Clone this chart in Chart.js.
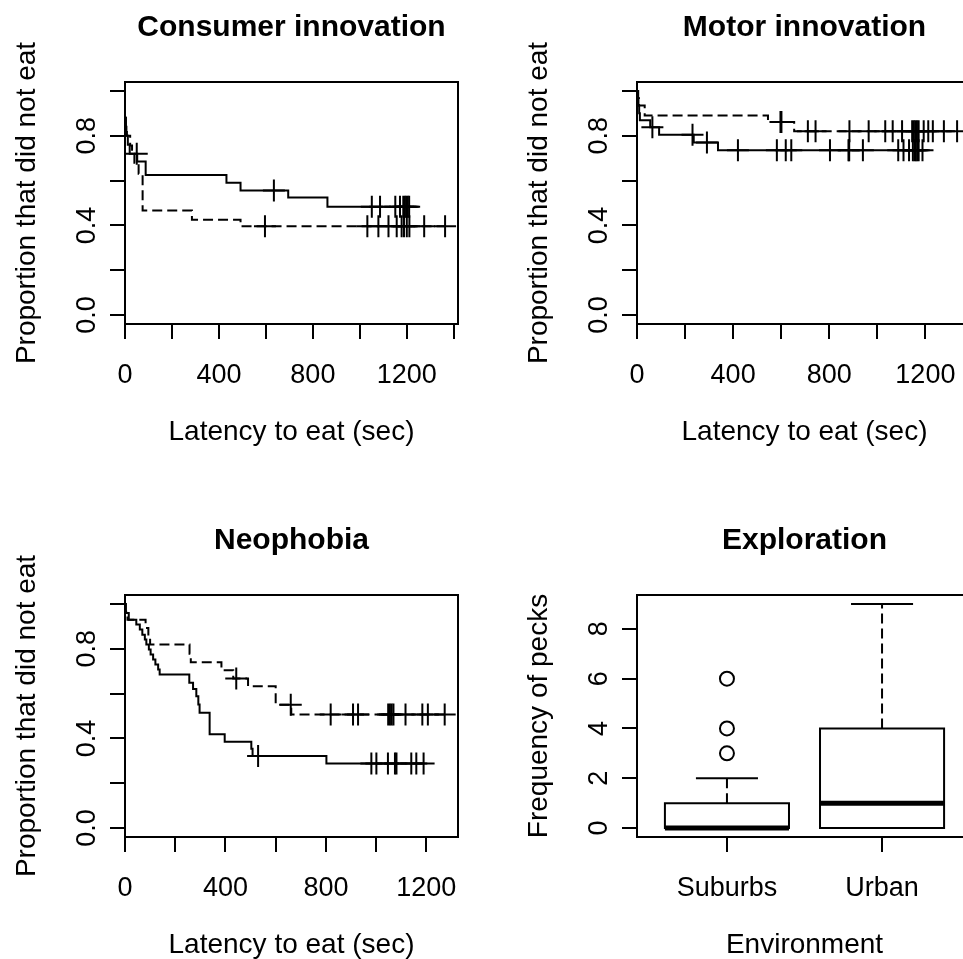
<!DOCTYPE html>
<html>
<head>
<meta charset="utf-8">
<script src="https://cdn.jsdelivr.net/npm/chart.js@4.4.0/dist/chart.umd.min.js"></script>
<style>
  html, body { margin: 0; padding: 0; background: #fff; }
  #wrap { position: relative; width: 963px; height: 959px; overflow: hidden; background: #fff; }
  #wrap canvas { position: absolute; left: 0; top: 0; }
</style>
</head>
<body>
<div id="wrap">
  <canvas id="consumer" width="1024" height="959"></canvas>
  <canvas id="motor" width="1024" height="959"></canvas>
  <canvas id="neophobia" width="1024" height="959"></canvas>
  <canvas id="exploration" width="1024" height="959"></canvas>
</div>
<script>
// Kaplan-Meier steps: [latency (sec), proportion that did not eat after the step]
const consumerSolidSteps = [[0, 0.88], [3, 0.84], [6, 0.80], [12, 0.76], [20, 0.72], [52, 0.685], [88, 0.625],
  [432, 0.59], [492, 0.556], [695, 0.524], [862, 0.483]];
const consumerSolidCensored = [50, 634, 1051, 1086, 1151, 1171, 1185, 1192, 1198, 1204, 1210];
const consumerDashedSteps = [[0, 0.88], [4, 0.84], [8, 0.80], [22, 0.757], [30, 0.72], [40, 0.68], [58, 0.63],
  [75, 0.466], [285, 0.425], [492, 0.396]];
const consumerDashedCensored = [596, 1032, 1079, 1122, 1157, 1178, 1188, 1200, 1211, 1274, 1363];

const motorSolidSteps = [[0, 1], [3, 0.967], [6, 0.935], [9, 0.9], [12, 0.869], [55, 0.838], [92, 0.805],
  [236, 0.77], [337, 0.735]];
const motorSolidCensored = [64, 231, 291, 420, 582, 619, 642, 803, 880, 883, 940, 1087, 1109, 1132,
  1148, 1155, 1160, 1166, 1172, 1188];
const motorDashedSteps = [[0, 1], [5, 0.967], [8, 0.935], [32, 0.891], [545, 0.862], [654, 0.82]];
const motorDashedCensored = [597, 601, 711, 743, 884, 964, 1033, 1064, 1103, 1145, 1152, 1158, 1165,
  1172, 1193, 1212, 1231, 1277, 1332];

const neoSolidSteps = [[0, 1], [3, 0.96], [15, 0.93], [45, 0.908], [59, 0.886], [69, 0.863], [79, 0.841],
  [85, 0.819], [95, 0.797], [102, 0.774], [112, 0.752], [121, 0.73], [132, 0.707], [138, 0.685],
  [256, 0.648], [271, 0.621], [284, 0.588], [292, 0.551], [297, 0.514], [337, 0.418], [397, 0.385],
  [503, 0.354], [508, 0.321], [802, 0.288]];
const neoSolidCensored = [530, 981, 1001, 1047, 1075, 1081, 1140, 1160, 1189];
const neoDashedSteps = [[0, 1], [3, 0.965], [10, 0.93], [82, 0.893], [93, 0.856], [100, 0.819],
  [257, 0.778], [262, 0.74], [384, 0.704], [431, 0.667], [490, 0.633], [600, 0.55], [662, 0.507]];
const neoDashedCensored = [443, 660, 819, 908, 928, 1048, 1055, 1062, 1069, 1117, 1184, 1206, 1273];

// Exploration box plot
const environments = ['Suburbs', 'Urban'];
const peckLowWhisker = [0, 0];
const peckQ1 = [0, 0];
const peckMedian = [0, 1];
const peckQ3 = [1, 4];
const peckHighWhisker = [2, 9];
const peckOutliers = [[3, 4, 6], []];

// Axis ticks
const latencyTicks = [0, 200, 400, 600, 800, 1000, 1200, 1400];
const latencyLabels = [0, 400, 800, 1200];
const propTicks = [0, 0.2, 0.4, 0.6, 0.8, 1.0];
const propLabels = ['0.0', '0.4', '0.8'];
const peckTicks = [0, 2, 4, 6, 8];

const W = 1024, H = 959;
const FONT = '"Liberation Sans", Arial, Helvetica, sans-serif';

// R-like box, tick labels and titles drawn from the chart's own scales
const rAxes = {
  id: 'rAxes',
  afterDraw(chart, args, o) {
    const { ctx, chartArea: a, scales: { x, y } } = chart;
    ctx.save();
    ctx.strokeStyle = '#000';
    ctx.lineWidth = 2;
    ctx.strokeRect(a.left, a.top, a.right - a.left, a.bottom - a.top);
    ctx.fillStyle = '#000';
    ctx.textAlign = 'center';
    ctx.textBaseline = 'alphabetic';
    const cx = (a.left + a.right) / 2, cy = (a.top + a.bottom) / 2;
    ctx.font = 'bold 30px ' + FONT;
    ctx.fillText(o.title, cx, a.top - 46);
    ctx.font = '27px ' + FONT;
    o.xAt.forEach((v, i) => ctx.fillText(o.xText[i], x.getPixelForValue(v), a.bottom + 59));
    o.yAt.forEach((v, i) => {
      ctx.save();
      ctx.translate(a.left - 30, y.getPixelForValue(v));
      ctx.rotate(-Math.PI / 2);
      ctx.fillText(o.yText[i], 0, 0);
      ctx.restore();
    });
    ctx.font = '28px ' + FONT;
    ctx.fillText(o.xTitle, cx, a.bottom + 116);
    ctx.save();
    ctx.translate(a.left - 90, cy);
    ctx.rotate(-Math.PI / 2);
    ctx.fillText(o.yTitle, 0, 0);
    ctx.restore();
    ctx.restore();
  }
};

function rScale(min, max, ticks) {
  return {
    type: 'linear', min: min, max: max,
    afterBuildTicks: s => { s.ticks = ticks.map(v => ({ value: v })); },
    ticks: { display: false },
    grid: { drawOnChartArea: false, drawTicks: true, tickLength: 15, color: '#000', lineWidth: 2 },
    border: { display: false }
  };
}

function kmDatasets(steps, censored, dashed) {
  const at = t => { let s = steps[0][1]; steps.forEach(p => { if (p[0] <= t) s = p[1]; }); return s; };
  const pts = steps.map(p => ({ x: p[0], y: p[1] }));
  const end = Math.max(...censored);
  pts.push({ x: end, y: at(end) });
  return [
    { type: 'line', data: pts, stepped: true, borderColor: '#000', borderWidth: 2,
      borderDash: dashed ? [10, 5] : [], pointRadius: 0, fill: false },
    { type: 'scatter', data: censored.map(t => ({ x: t, y: at(t) })), pointStyle: 'cross',
      pointRadius: 11, pointBorderWidth: 2, pointBorderColor: '#000', pointBackgroundColor: '#000' }
  ];
}

function makeChart(id, box, xs, ys, datasets, axes) {
  new Chart(document.getElementById(id), {
    type: 'line',
    data: { datasets: datasets },
    options: {
      responsive: false,
      animation: false,
      events: [],
      layout: { padding: { left: box.l - 15, top: box.t, right: W - box.r, bottom: H - box.b - 15 } },
      scales: { x: xs, y: ys },
      plugins: { legend: { display: false }, tooltip: { enabled: false }, rAxes: axes }
    },
    plugins: [rAxes]
  });
}

const kmAxes = (title) => ({
  title: title,
  xAt: latencyLabels, xText: latencyLabels.map(String),
  yAt: [0, 0.4, 0.8], yText: propLabels,
  xTitle: 'Latency to eat (sec)', yTitle: 'Proportion that did not eat'
});

makeChart('consumer', { l: 125, r: 458, t: 82, b: 324 },
  rScale(0, 1418, latencyTicks), rScale(-0.04, 1.04, propTicks),
  [...kmDatasets(consumerSolidSteps, consumerSolidCensored, false),
   ...kmDatasets(consumerDashedSteps, consumerDashedCensored, true)],
  kmAxes('Consumer innovation'));

makeChart('motor', { l: 637, r: 972, t: 82, b: 324 },
  rScale(0, 1394, latencyTicks.slice(0, 7)), rScale(-0.04, 1.04, propTicks),
  [...kmDatasets(motorSolidSteps, motorSolidCensored, false),
   ...kmDatasets(motorDashedSteps, motorDashedCensored, true)],
  kmAxes('Motor innovation'));

makeChart('neophobia', { l: 125, r: 458, t: 595, b: 837 },
  rScale(0, 1326, latencyTicks.slice(0, 7)), rScale(-0.04, 1.04, propTicks),
  [...kmDatasets(neoSolidSteps, neoSolidCensored, false),
   ...kmDatasets(neoDashedSteps, neoDashedCensored, true)],
  kmAxes('Neophobia'));

// box plot datasets built from the summary arrays
const boxHalf = 0.4, capHalf = 0.2;
const boxSets = [];
environments.forEach((env, i) => {
  const c = i + 1;
  const line = (pts, extra) => Object.assign({ type: 'line', data: pts, borderColor: '#000', borderWidth: 2,
    pointRadius: 0, fill: false, borderCapStyle: 'square' }, extra || {});
  boxSets.push(line([{ x: c - boxHalf, y: peckQ1[i] }, { x: c + boxHalf, y: peckQ1[i] },
    { x: c + boxHalf, y: peckQ3[i] }, { x: c - boxHalf, y: peckQ3[i] }, { x: c - boxHalf, y: peckQ1[i] }]));
  boxSets.push(line([{ x: c - boxHalf, y: peckMedian[i] }, { x: c + boxHalf, y: peckMedian[i] }],
    { borderWidth: 5, borderCapStyle: 'butt' }));
  boxSets.push(line([{ x: c, y: peckQ3[i] }, { x: c, y: peckHighWhisker[i] }], { borderDash: [10, 5], borderCapStyle: 'butt' }));
  boxSets.push(line([{ x: c, y: peckQ1[i] }, { x: c, y: peckLowWhisker[i] }], { borderDash: [10, 5], borderCapStyle: 'butt' }));
  boxSets.push(line([{ x: c - capHalf, y: peckHighWhisker[i] }, { x: c + capHalf, y: peckHighWhisker[i] }], { borderCapStyle: 'butt' }));
  boxSets.push(line([{ x: c - capHalf, y: peckLowWhisker[i] }, { x: c + capHalf, y: peckLowWhisker[i] }], { borderCapStyle: 'butt' }));
  boxSets.push({ type: 'scatter', data: peckOutliers[i].map(v => ({ x: c, y: v })), pointStyle: 'circle',
    pointRadius: 7, pointBorderWidth: 2, pointBorderColor: '#000', pointBackgroundColor: 'rgba(0,0,0,0)' });
});

makeChart('exploration', { l: 637, r: 972, t: 595, b: 837 },
  rScale(0.42, 2.58, [1, 2]), rScale(-0.36, 9.36, peckTicks),
  boxSets,
  { title: 'Exploration', xAt: [1, 2], xText: environments, yAt: peckTicks, yText: peckTicks.map(String),
    xTitle: 'Environment', yTitle: 'Frequency of pecks' });
</script>
</body>
</html>
